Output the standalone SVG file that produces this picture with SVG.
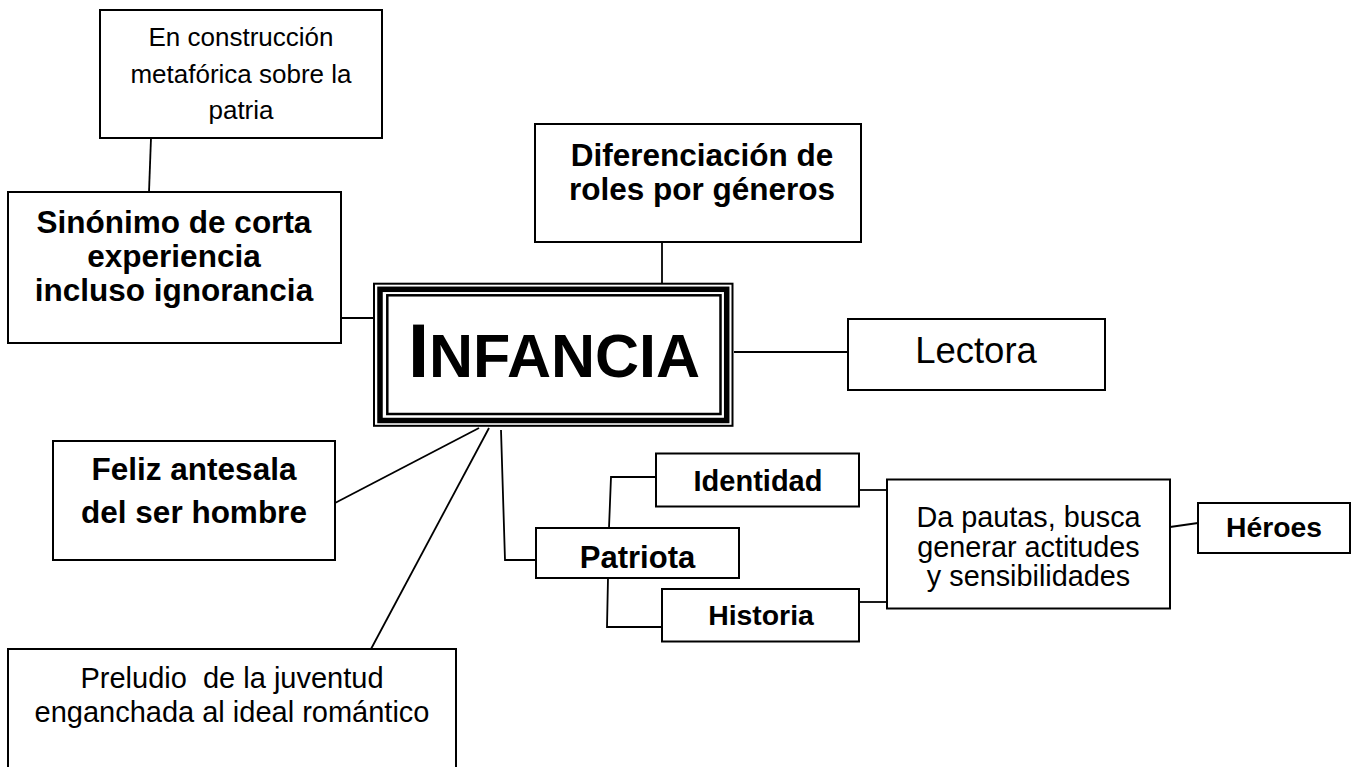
<svg xmlns="http://www.w3.org/2000/svg" width="1354" height="767" viewBox="0 0 1354 767">
<style>
.box{fill:#fff;stroke:#000;stroke-width:2}
.c{fill:none;stroke:#000;stroke-width:1.8}
text{font-family:"Liberation Sans",Arial,sans-serif;fill:#000;text-anchor:middle}
.b{font-weight:bold}
</style>
<rect width="1354" height="767" fill="#fff"/>
<g id="connectors">
<line class="c" x1="151" y1="138" x2="149" y2="192"/>
<line class="c" x1="341" y1="318" x2="374" y2="318"/>
<line class="c" x1="662" y1="242" x2="662" y2="284"/>
<line class="c" x1="734" y1="352" x2="848" y2="352"/>
<line class="c" x1="335" y1="503" x2="479" y2="428"/>
<line class="c" x1="371" y1="649" x2="489" y2="428"/>
<polyline class="c" points="501,430 505,560 536,560"/>
<polyline class="c" points="609,528 611,477 656,477"/>
<polyline class="c" points="608,578 607,627 662,627"/>
<line class="c" x1="859" y1="490" x2="887" y2="490"/>
<line class="c" x1="859" y1="602" x2="887" y2="602"/>
<line class="c" x1="1170" y1="527" x2="1198" y2="523"/>
</g>
<g id="n-construccion">
<rect class="box" x="100" y="10" width="282" height="128"/>
<text x="241" y="46" font-size="26">En construcción</text>
<text x="241" y="83" font-size="26">metafórica sobre la</text>
<text x="241" y="119" font-size="26">patria</text>
</g>
<g id="n-sinonimo">
<rect class="box" x="8" y="192" width="333" height="151"/>
<text class="b" x="174" y="233" font-size="31.5">Sinónimo de corta</text>
<text class="b" x="174" y="267" font-size="31.5">experiencia</text>
<text class="b" x="174" y="301" font-size="31.5">incluso ignorancia</text>
</g>
<g id="n-diferenciacion">
<rect class="box" x="535" y="124" width="326" height="118"/>
<text class="b" x="702" y="166" font-size="31.5">Diferenciación de</text>
<text class="b" x="702" y="200" font-size="31.5">roles por géneros</text>
</g>
<g id="n-infancia">
<rect x="374" y="283.7" width="358.5" height="142.1" fill="#fff" stroke="#000" stroke-width="2"/>
<rect x="380" y="289.3" width="346.7" height="131.2" fill="none" stroke="#000" stroke-width="5.5"/>
<rect x="387.3" y="295.3" width="333.2" height="118.7" fill="none" stroke="#000" stroke-width="2.5"/>
<text class="b" x="554" y="377"><tspan font-size="76">I</tspan><tspan font-size="61">NFANCIA</tspan></text>
</g>
<g id="n-lectora">
<rect class="box" x="848" y="319" width="257" height="71"/>
<text x="976" y="363" font-size="36.5">Lectora</text>
</g>
<g id="n-feliz">
<rect class="box" x="53" y="441" width="282" height="119"/>
<text class="b" x="194" y="480" font-size="31.5">Feliz antesala</text>
<text class="b" x="194" y="523" font-size="31.5">del ser hombre</text>
</g>
<g id="n-preludio">
<rect class="box" x="8" y="649" width="448" height="140"/>
<text x="232" y="688" font-size="29" xml:space="preserve">Preludio  de la juventud</text>
<text x="232" y="722" font-size="29">enganchada al ideal romántico</text>
</g>
<g id="n-patriota">
<rect class="box" x="536" y="528" width="203" height="50"/>
<text class="b" x="637.5" y="568" font-size="31">Patriota</text>
</g>
<g id="n-identidad">
<rect class="box" x="656" y="453.5" width="203" height="53"/>
<text class="b" x="758" y="491" font-size="29">Identidad</text>
</g>
<g id="n-historia">
<rect class="box" x="662" y="589" width="197" height="52.5"/>
<text class="b" x="761" y="625" font-size="28.4">Historia</text>
</g>
<g id="n-pautas">
<rect class="box" x="887" y="479.5" width="283" height="129"/>
<text x="1028.5" y="527" font-size="28.8">Da pautas, busca</text>
<text x="1028.5" y="557" font-size="28.8">generar actitudes</text>
<text x="1028.5" y="586" font-size="28.8">y sensibilidades</text>
</g>
<g id="n-heroes">
<rect class="box" x="1198" y="503" width="152" height="50"/>
<text class="b" x="1274" y="537" font-size="28.3">Héroes</text>
</g>
</svg>
